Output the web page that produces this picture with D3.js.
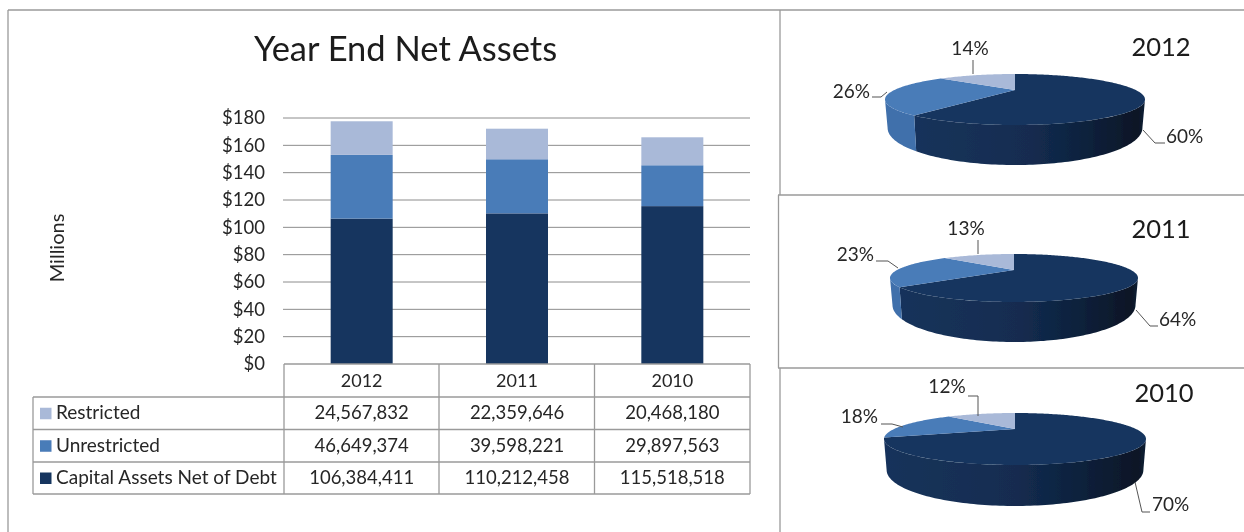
<!DOCTYPE html>
<html>
<head>
<meta charset="utf-8">
<script src="https://cdn.jsdelivr.net/npm/d3@7"></script>
<style>
html, body { margin: 0; padding: 0; background: #fff; }
svg { display: block; }
text { font-family: Lato, "Open Sans", sans-serif; fill: #262626; }
</style>
</head>
<body>
<svg id="chart" width="1244" height="532"></svg>
<script>
var years = ["2012", "2011", "2010"];
var restricted = [24567832, 22359646, 20468180];
var unrestricted = [46649374, 39598221, 29897563];
var capital = [106384411, 110212458, 115518518];
var seriesNames = ["Restricted", "Unrestricted", "Capital Assets Net of Debt"];
var yTicks = [0, 20, 40, 60, 80, 100, 120, 140, 160, 180];

var colRestricted = "#a9b9d8", colUnrestricted = "#4a7bb8", colCapital = "#17365f";
var lineCol = "#9a9a9a";

var svg = d3.select("#chart");
var defs = svg.append("defs");

// slight softening, the source is an upscaled screenshot
defs.append("filter").attr("id", "soft")
    .append("feGaussianBlur").attr("stdDeviation", 0.4);
var root = svg.append("g").attr("filter", "url(#soft)");

// frame lines
function rule(x1, y1, x2, y2) {
    root.append("line").attr("x1", x1).attr("y1", y1).attr("x2", x2).attr("y2", y2)
        .attr("stroke", lineCol).attr("stroke-width", 1.3);
}
rule(8, 10, 1244, 10);
rule(8, 10, 8, 532);
rule(780, 10, 780, 195);
rule(778.5, 195, 778.5, 368);
rule(780, 368, 780, 532);
rule(778, 195, 1244, 195);
rule(778, 368, 1244, 368);

root.append("text").attr("x", 405.5).attr("y", 61).attr("text-anchor", "middle")
    .attr("font-size", 34.5).style("fill", "#1a1a1a").text("Year End Net Assets");

root.append("text").attr("transform", "translate(64,248) rotate(-90)")
    .attr("text-anchor", "middle").attr("font-size", 20).text("Millions");

// bars
var x = d3.scaleBand().domain(years).range([284, 750]).paddingInner(0).paddingOuter(0);
var y = d3.scaleLinear().domain([0, 180]).range([364, 118]);
var barW = 62;

var yAxis = d3.axisLeft(y).tickValues(yTicks).tickSize(0).tickPadding(19)
    .tickFormat(function(d) { return "$" + d; });
var yG = root.append("g").attr("transform", "translate(284,0)").call(yAxis);
yG.select(".domain").remove();
yG.selectAll("text").attr("font-size", 18.5).style("font-family", "Lato");

root.append("g").selectAll("line").data(yTicks.slice(1)).enter().append("line")
    .attr("x1", 283).attr("x2", 750)
    .attr("y1", function(d) { return y(d); }).attr("y2", function(d) { return y(d); })
    .attr("stroke", "#8c8c8c").attr("stroke-width", 1);

var stack = d3.stack().keys(["capital", "unrestricted", "restricted"]);
var rows = years.map(function(yr, i) {
    return { year: yr, capital: capital[i] / 1e6, unrestricted: unrestricted[i] / 1e6, restricted: restricted[i] / 1e6 };
});
var barCols = { capital: colCapital, unrestricted: colUnrestricted, restricted: colRestricted };
root.append("g").selectAll("g").data(stack(rows)).enter().append("g")
    .attr("fill", function(s) { return barCols[s.key]; })
    .selectAll("rect").data(function(s) { return s; }).enter().append("rect")
    .attr("x", function(d) { return x(d.data.year) + x.bandwidth() / 2 - barW / 2; })
    .attr("width", barW)
    .attr("y", function(d) { return y(d[1]); })
    .attr("height", function(d) { return y(d[0]) - y(d[1]); });

// data table under the axis
var rowY = [364, 397, 429.5, 462, 494];
var tableLeft = 33;
var tableRows = [restricted, unrestricted, capital];
var swatches = [colRestricted, colUnrestricted, colCapital];
var fmt = d3.format(",");

rule(284, rowY[0], 750, rowY[0]);
rowY.slice(1).forEach(function(ry) { rule(tableLeft, ry, 750, ry); });
rule(tableLeft, rowY[1], tableLeft, rowY[4]);
[284, 439, 594.5, 750].forEach(function(cx) { rule(cx, rowY[0], cx, rowY[4]); });

root.append("g").selectAll("text").data(years).enter().append("text")
    .attr("x", function(d) { return x(d) + x.bandwidth() / 2; })
    .attr("y", 387).attr("text-anchor", "middle").attr("font-size", 18)
    .text(function(d) { return d; });

tableRows.forEach(function(vals, r) {
    var mid = (rowY[r + 1] + rowY[r + 2]) / 2;
    root.append("rect").attr("x", 40).attr("y", mid - 5.5).attr("width", 11.5).attr("height", 11.5)
        .attr("fill", swatches[r]);
    root.append("text").attr("x", 56).attr("y", mid + 6).attr("font-size", 19).text(seriesNames[r]);
    root.append("g").selectAll("text").data(vals).enter().append("text")
        .attr("x", function(d, i) { return x(years[i]) + x.bandwidth() / 2; })
        .attr("y", mid + 6).attr("text-anchor", "middle").attr("font-size", 18.5)
        .text(function(d) { return fmt(d); });
});

// 3d pies. front/back = distance from the pie centre to the near/far rim on screen,
// lowRy = curve of the bottom edge of the wall, rounder than the top rim
var pieLayout = [
    { cx: 1015, cy: 90, rx: 130, back: 16, front: 35, depth: 40, lowRy: 37, yearX: 1161, yearY: 56,
      leaders: [
        { pts: [[973, 60], [973, 74]], tx: 970, ty: 55, anchor: "middle" },
        { pts: [[872, 97], [881, 97], [887, 92]], tx: 870, ty: 98, anchor: "end" },
        { pts: [[1143, 130], [1155, 143], [1165, 143]], tx: 1166, ty: 143, anchor: "start" }] },
    { cx: 1014, cy: 270, rx: 124, back: 16, front: 32, depth: 40, lowRy: 37, yearX: 1161, yearY: 238,
      leaders: [
        { pts: [[978, 240], [978, 254]], tx: 966, ty: 235, anchor: "middle" },
        { pts: [[876, 261], [888, 261], [898, 268]], tx: 874, ty: 261, anchor: "end" },
        { pts: [[1136, 310], [1150, 326], [1158, 326]], tx: 1159, ty: 326, anchor: "start" }] },
    { cx: 1015, cy: 429, rx: 131, back: 16, front: 36, depth: 41, lowRy: 36, yearX: 1164, yearY: 402,
      leaders: [
        { pts: [[968, 396], [978, 396], [978, 416]], tx: 947, ty: 393, anchor: "middle" },
        { pts: [[881, 424], [892, 424], [903, 427]], tx: 878, ty: 423, anchor: "end" },
        { pts: [[1135, 482], [1142, 512], [1150, 512]], tx: 1152, ty: 511, anchor: "start" }] }
];

var pieGen = d3.pie().sort(null).value(function(d) { return d; });
var pct = d3.format(".0%");

// same wall shading for the dark slice of every pie
var grad = defs.append("linearGradient").attr("id", "darkWall").attr("x1", 0).attr("x2", 1).attr("y1", 0).attr("y2", 0);
[[0, "#16335b"], [0.5, "#132c50"], [0.75, "#0e213c"], [0.97, "#091626"], [1, "#0e2036"]].forEach(function(s) {
    grad.append("stop").attr("offset", s[0]).attr("stop-color", s[1]);
});

function drawPie(i) {
    var p = pieLayout[i];
    var k = (p.front - p.back) / (p.front + p.back);
    var a = p.front * (1 - k);
    var b = p.rx * Math.sqrt(1 - k * k);
    var shrink = 0.98;
    var lowCy = p.cy + p.front + p.depth - p.lowRy;

    // perspective projection of a point on the unit disc, t clockwise from the far side
    function rim(t) {
        var u = Math.sin(t), v = -Math.cos(t), w = 1 - k * v;
        return [p.cx + b * u / w, p.cy + a * v / w];
    }
    // point on the bottom edge under a rim point
    function low(t) {
        var dx = (rim(t)[0] - p.cx) / p.rx;
        return [p.cx + dx * p.rx * shrink, lowCy + p.lowRy * Math.sqrt(Math.max(0, 1 - dx * dx))];
    }
    function steps(t0, t1) {
        var n = Math.max(2, Math.ceil(Math.abs(t1 - t0) / 0.02));
        return d3.range(n + 1).map(function(j) { return t0 + (t1 - t0) * j / n; });
    }

    var slices = pieGen([capital[i], unrestricted[i], restricted[i]]);
    var topCols = [colCapital, colUnrestricted, colRestricted];
    var wallCols = ["url(#darkWall)", "#3f6fab", "#98a7c6"];
    var line = d3.line();
    var g = root.append("g");

    // only the part of the wall facing the viewer is visible
    var visFrom = Math.acos(-k), visTo = 2 * Math.PI - visFrom;
    slices.forEach(function(s, n) {
        var t0 = Math.max(s.startAngle, visFrom), t1 = Math.min(s.endAngle, visTo);
        if (t1 <= t0) return;
        var ts = steps(t0, t1);
        var pts = ts.map(rim).concat(ts.slice().reverse().map(low));
        g.append("path").attr("d", line(pts) + "Z").attr("fill", wallCols[n]);
    });
    slices.forEach(function(s, n) {
        var pts = [[p.cx, p.cy]].concat(steps(s.startAngle, s.endAngle).map(rim));
        g.append("path").attr("d", line(pts) + "Z").attr("fill", topCols[n]);
    });

    // leaders and labels, small slice first like the picture lists them
    var order = [2, 1, 0];
    p.leaders.forEach(function(l, n) {
        g.append("path").attr("d", line(l.pts)).attr("fill", "none").attr("stroke", "#555").attr("stroke-width", 1);
        var s = slices[order[n]];
        g.append("text").attr("x", l.tx).attr("y", l.ty).attr("text-anchor", l.anchor)
            .attr("font-size", 19).text(pct((s.endAngle - s.startAngle) / (2 * Math.PI)));
    });
    g.append("text").attr("x", p.yearX).attr("y", p.yearY).attr("text-anchor", "middle")
        .attr("font-size", 25.5).style("fill", "#1a1a1a").text(years[i]);
}
pieLayout.forEach(function(p, i) { drawPie(i); });
</script>
</body>
</html>
